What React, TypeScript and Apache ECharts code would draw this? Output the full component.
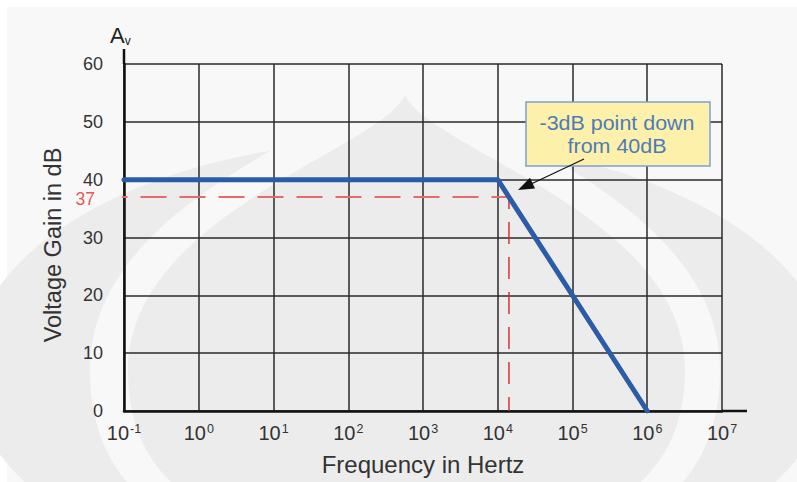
import React, { useEffect, useRef } from "react";
import * as echarts from "echarts";

// ---- data ----
const responseFreq: number[] = [0.1, 1e4, 1e6];
const responseGain: number[] = [40, 40, 0];
const cutoffFreq = 14125; // about 10^4.15 Hz
const cutoffGain = 37;
const guideStartFreq = 0.05;
const xMinFreq = 0.1;
const xMaxFreq = 1e7;
const yMin = 0;
const yMax = 60;
const yStep = 10;
const yAxisTitle = "Voltage Gain in dB";
const xAxisTitle = "Frequency in Hertz";
const noteLines = ["-3dB point down", "from 40dB"];

const FONT = "'Liberation Sans', Arial, sans-serif";

const W = 797;
const H = 482;
const G_LEFT = 124;
const G_TOP = 64;
const G_RIGHT_X = 722;
const G_BOTTOM_Y = 411;

echarts.graphic.registerShape(
  "wmBand",
  echarts.graphic.extendPath(
    "M405,62 C430,120 720,190 720,370 C720,480 650,560 405,585 C160,560 90,480 90,370 C90,190 380,120 405,62 Z",
    {}
  )
);
echarts.graphic.registerShape(
  "wmDrop",
  echarts.graphic.extendPath(
    "M405,95 C430,150 685,215 685,370 C685,470 620,540 405,560 C190,540 128,470 128,370 C128,215 380,150 405,95 Z",
    {}
  )
);

export default function App() {
  const ref = useRef<HTMLDivElement>(null);

  useEffect(() => {
    if (!ref.current) return;
    const chart = echarts.init(ref.current, undefined, { renderer: "svg" });

    const responseData = responseFreq.map((f, i) => [f, responseGain[i]]);

    const option: any = {
      animation: false,
      backgroundColor: "#ffffff",
      textStyle: { fontFamily: FONT },
      grid: {
        left: G_LEFT,
        top: G_TOP,
        right: W - G_RIGHT_X,
        bottom: H - G_BOTTOM_Y,
        containLabel: false,
        outerBoundsMode: "none",
      },
      xAxis: {
        type: "log",
        logBase: 10,
        min: xMinFreq,
        max: xMaxFreq,
        interval: 1,
        splitNumber: 8,
        name: xAxisTitle,
        nameLocation: "middle",
        nameGap: 41,
        nameTextStyle: { fontSize: 24, color: "#333", fontFamily: FONT },
        axisLine: { show: true, lineStyle: { color: "#111", width: 2.5 } },
        axisTick: { show: false },
        splitLine: { show: true, lineStyle: { color: "#2a2a2a", width: 1.5 } },
        axisLabel: {
          margin: 11,
          formatter: (v: number) => {
            const e = Math.round(Math.log10(v));
            return `{b|10}{s|${e}}`;
          },
          rich: {
            b: { fontSize: 20, color: "#333", fontFamily: FONT, lineHeight: 22 },
            s: { fontSize: 12.5, color: "#333", fontFamily: FONT, lineHeight: 12, verticalAlign: "top", padding: [0, 0, 3, 1] },
          },
        },
      },
      yAxis: {
        type: "value",
        min: yMin,
        max: yMax,
        interval: yStep,
        name: yAxisTitle,
        nameLocation: "middle",
        nameRotate: 90,
        nameGap: 59,
        nameTextStyle: { fontSize: 23.5, color: "#333", fontFamily: FONT, padding: [0, 15, 0, 0] },
        axisLine: { show: true, lineStyle: { color: "#111", width: 2.5 } },
        axisTick: { show: false },
        splitLine: { show: true, lineStyle: { color: "#2a2a2a", width: 1.5 } },
        axisLabel: { fontSize: 18, lineHeight: 14, color: "#333", margin: 21, fontFamily: FONT },
      },
      series: [
        {
          type: "line",
          data: [
            [guideStartFreq, cutoffGain],
            [cutoffFreq, cutoffGain],
          ],
          clip: false,
          symbol: "none",
          z: 3,
          lineStyle: { color: "#e36b6b", width: 2.2, type: [26, 13] },
          silent: true,
        },
        {
          type: "line",
          data: [
            [cutoffFreq, cutoffGain],
            [cutoffFreq, 0],
          ],
          clip: false,
          symbol: "none",
          z: 3,
          lineStyle: { color: "#d62828", width: 1.4, type: [22, 13], dashOffset: 10 },
          silent: true,
        },
        {
          type: "scatter",
          data: [[guideStartFreq, cutoffGain]],
          clip: false,
          symbol: "circle",
          symbolSize: 1,
          itemStyle: { color: "rgba(0,0,0,0)" },
          silent: true,
          z: 6,
          label: {
            show: true,
            position: "left",
            distance: 6,
            offset: [0, 2],
            formatter: String(cutoffGain),
            color: "#d9302c",
            fontSize: 17.5,
            lineHeight: 13,
            fontFamily: FONT,
          },
        },
        {
          type: "line",
          data: responseData,
          symbol: "none",
          z: 5,
          lineStyle: { color: "#2b5ca8", width: 5, cap: "round", join: "round" },
          silent: true,
        },
      ],
      graphic: [
        { type: "rect", z: -100, silent: true, shape: { x: 0, y: 0, width: W, height: H }, style: { fill: "#ffffff" } },
        { type: "rect", z: -99, silent: true, shape: { x: 7, y: 7, width: W - 7, height: H - 7 }, style: { fill: "#f8f8f8" } },
        { type: "ellipse", z: -98, silent: true, shape: { cx: 400, cy: 370, rx: 430, ry: 230 }, style: { fill: "#ececec" } },
        { type: "wmBand", z: -97, silent: true, x: 0, y: 0, style: { fill: "#f8f8f8" } },
        { type: "wmDrop", z: -96, silent: true, x: 0, y: 0, style: { fill: "#ececec" } },
        // axis extensions
        { type: "line", z: 10, silent: true, shape: { x1: G_LEFT, y1: 49, x2: G_LEFT, y2: G_TOP }, style: { stroke: "#111", lineWidth: 2.5 } },
        { type: "line", z: 10, silent: true, shape: { x1: G_RIGHT_X, y1: G_BOTTOM_Y, x2: 747, y2: G_BOTTOM_Y }, style: { stroke: "#111", lineWidth: 2.5 } },
        // A_v
        {
          type: "text",
          z: 10,
          silent: true,
          x: 110,
          y: 23,
          style: {
            text: "{a|A}{v|v}",
            rich: {
              a: { fontSize: 22, fill: "#222", fontFamily: FONT, lineHeight: 24 },
              v: { fontSize: 12, fill: "#222", fontFamily: FONT, verticalAlign: "bottom", lineHeight: 12 },
            },
          },
        },
        // annotation box
        {
          type: "rect",
          z: 10,
          silent: true,
          shape: { x: 526, y: 102, width: 184, height: 64 },
          style: { fill: "#fcf0ab", stroke: "#7ea0cf", lineWidth: 1.5 },
        },
        {
          type: "text",
          z: 11,
          silent: true,
          x: 617,
          y: 134,
          scaleX: 1.1,
          style: {
            text: noteLines.join("\n"),
            fill: "#4f7cb5",
            fontSize: 19.5,
            fontFamily: FONT,
            align: "center",
            verticalAlign: "middle",
            lineHeight: 23,
          },
        },
        {
          type: "line",
          z: 11,
          silent: true,
          shape: { x1: 584, y1: 159, x2: 530, y2: 184.5 },
          style: { stroke: "#111", lineWidth: 1.2 },
        },
        {
          type: "polygon",
          z: 11,
          silent: true,
          shape: { points: [[518, 190], [530, 177.8], [535, 188.6]] },
          style: { fill: "#111" },
        },
      ],
    };

    chart.setOption(option);
    return () => chart.dispose();
  }, []);

  return (
    <div
      ref={ref}
      style={{ position: "fixed", left: 0, top: 0, width: W, height: H }}
    />
  );
}
